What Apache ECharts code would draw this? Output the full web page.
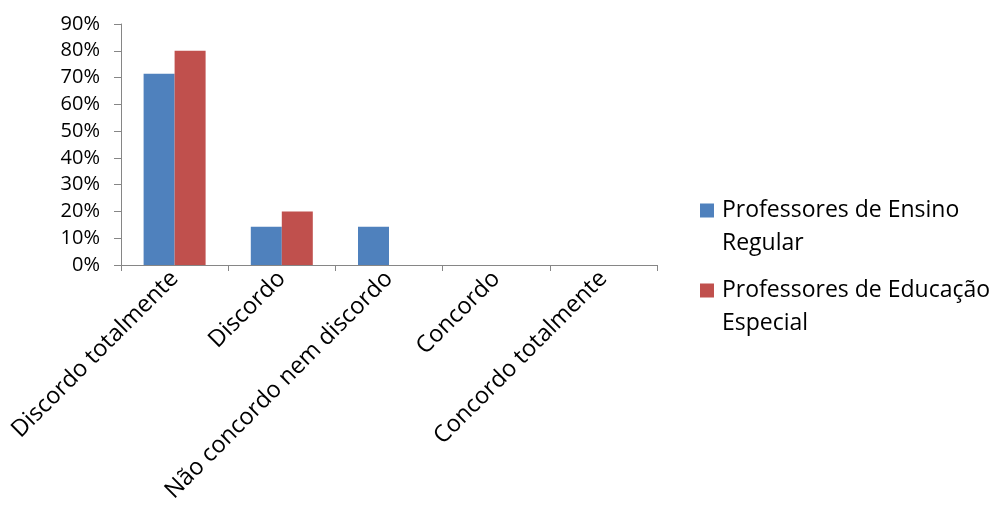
<!DOCTYPE html>
<html>
<head>
<meta charset="utf-8">
<script src="https://cdn.jsdelivr.net/npm/echarts@6/dist/echarts.min.js"></script>
<style>
  html, body { margin: 0; padding: 0; background: #fff; }
  #chart { width: 993px; height: 513px; }
</style>
</head>
<body>
<div id="chart"></div>
<script>
// Response categories (Likert scale)
const categories = ['Discordo totalmente', 'Discordo', 'Não concordo nem discordo', 'Concordo', 'Concordo totalmente'];
// Share of answers per group, in percent
const ensinoRegular = [71.4, 14.3, 14.3, 0, 0];
const educacaoEspecial = [80, 20, 0, 0, 0];
const seriesNames = ['Professores de Ensino Regular', 'Professores de Educação Especial'];
const legendLabels = ['Professores de Ensino\nRegular', 'Professores de Educação\nEspecial'];

const FONT = '"Open Sans", Lato, sans-serif';
// Legend swatch: a 14px square at the top of a taller box, so it lines up with the first text line
const legendIcon = 'path://M0,0h14v14h-14z M17,47h0.01v0.01h-0.01z';

const chart = echarts.init(document.getElementById('chart'), null, { renderer: 'canvas' });

chart.setOption({
  backgroundColor: '#ffffff',
  animation: false,
  textStyle: { fontFamily: FONT, color: '#000' },
  grid: { left: 121, right: 336, top: 24, bottom: 248, containLabel: false },
  legend: {
    orient: 'vertical',
    left: 700,
    top: 194,
    padding: 0,
    itemWidth: 17,
    itemHeight: 47,
    itemGap: 14,
    icon: legendIcon,
    formatter: name => legendLabels[seriesNames.indexOf(name)],
    textStyle: { fontFamily: FONT, fontSize: 23, color: '#000', lineHeight: 33 },
    data: seriesNames
  },
  xAxis: {
    type: 'category',
    data: categories,
    axisLine: { lineStyle: { color: '#868686', width: 1 } },
    axisTick: { show: true, length: 6, alignWithLabel: false, lineStyle: { color: '#868686' } },
    axisLabel: { rotate: 45, fontSize: 23.5, color: '#000', margin: 10, interval: 0, fontFamily: FONT },
    splitLine: { show: false }
  },
  yAxis: {
    type: 'value',
    min: 0,
    max: 90,
    interval: 10,
    axisLine: { show: true, lineStyle: { color: '#868686', width: 1 } },
    axisTick: { show: true, length: 7, lineStyle: { color: '#868686' } },
    axisLabel: { formatter: '{value}%', fontSize: 20, color: '#000', margin: 21, fontFamily: FONT },
    splitLine: { show: false }
  },
  series: [
    {
      name: seriesNames[0],
      type: 'bar',
      data: ensinoRegular,
      barWidth: 31,
      barGap: '0%',
      itemStyle: { color: '#4F81BD' }
    },
    {
      name: seriesNames[1],
      type: 'bar',
      data: educacaoEspecial,
      barWidth: 31,
      barGap: '0%',
      itemStyle: { color: '#C0504D' }
    }
  ]
});
</script>
</body>
</html>
